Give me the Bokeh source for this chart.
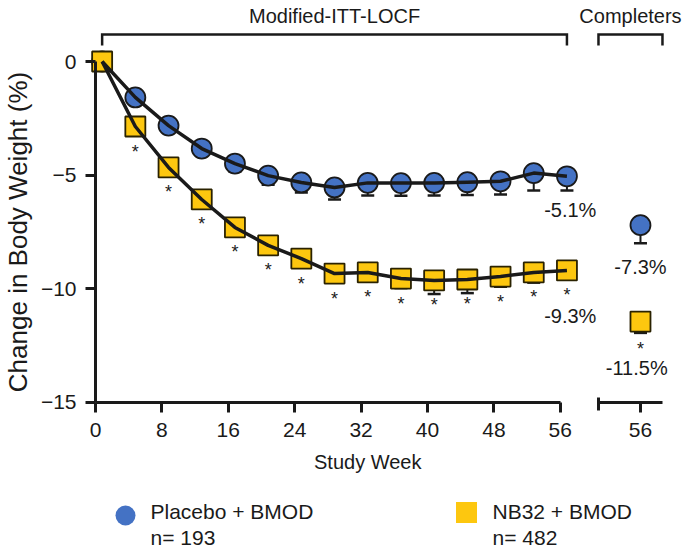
import math
from bokeh.plotting import figure
from bokeh.models import ColumnDataSource, Range1d, FixedTicker, Whisker, TeeHead, LinearAxis
from bokeh.layouts import column
from bokeh.transform import dodge
from bokeh.core.properties import value
from bokeh.embed import file_html
from bokeh.resources import INLINE

# ---------------- data ----------------
weeks = [0, 4, 8, 12, 16, 20, 24, 28, 32, 36, 40, 44, 48, 52, 56]
placebo = [0.0, -1.58, -2.82, -3.83, -4.49, -5.02, -5.32, -5.54, -5.34, -5.35, -5.34, -5.31, -5.27, -4.91, -5.05]
placebo_err = [0.0, 0.2, 0.25, 0.3, 0.35, 0.4, 0.44, 0.53, 0.56, 0.56, 0.56, 0.56, 0.58, 0.76, 0.63]
nb32 = [0.0, -2.86, -4.66, -6.07, -7.30, -8.09, -8.67, -9.33, -9.28, -9.55, -9.63, -9.59, -9.46, -9.28, -9.19]
nb32_err = [0.0, 0.2, 0.25, 0.3, 0.3, 0.35, 0.35, 0.4, 0.4, 0.42, 0.6, 0.6, 0.45, 0.45, 0.4]
nb32_sig = [False] + [True] * 14

completer_week = [56]
placebo_completer = [-7.2]
placebo_completer_err = [0.8]
nb32_completer = [-11.44]
nb32_completer_err = [0.5]

end_label_placebo = ["-5.1%"]
end_label_nb32 = ["-9.3%"]
completer_label_placebo = ["-7.3%"]
completer_label_nb32 = ["-11.5%"]

x_ticks = [0, 8, 16, 24, 32, 40, 48, 56]
y_ticks = [0, -5, -10, -15]

legend_names = ["Placebo + BMOD", "NB32 + BMOD"]
legend_n = ["n= 193", "n= 482"]

# ---------------- style / layout constants ----------------
FONT = "Liberation Sans"
BLUE = "#4472C4"
GOLD = "#FDC70F"
INK = "#1a1a1a"
OFF = 0.8           # markers sit slightly right of the nominal week
COMP_SHIFT = 9.66   # horizontal shift of the "Completers" panel
COMP_BOUNDS = (60.6, 68.31)
W, H_TOP = 684, 497

def style_axis(ax, size="21px"):
    ax.axis_line_width = 3
    ax.axis_line_color = INK
    ax.major_tick_line_width = 3
    ax.major_tick_line_color = INK
    ax.major_tick_in = 0
    ax.major_tick_out = 10
    ax.minor_tick_line_color = None
    ax.major_label_text_font = FONT
    ax.major_label_text_font_size = size
    ax.major_label_text_color = INK

def txt(fig, size, **kw):
    kw.setdefault("text_align", "center")
    kw.setdefault("text_baseline", "middle")
    fig.text(text_font=value(FONT), text_font_size=size, text_color=INK, **kw)

# ---------------- main figure ----------------
p = figure(width=W, height=H_TOP, x_range=Range1d(-11.446, 70.964), y_range=Range1d(-19.182, 2.684),
           output_backend="svg", toolbar_location=None, min_border=0,
           outline_line_color=None, background_fill_color="white", border_fill_color="white")
p.grid.visible = False

xa = p.xaxis[0]
style_axis(xa)
xa.ticker = FixedTicker(ticks=x_ticks)
xa.bounds = (x_ticks[0], x_ticks[-1])
xa.major_label_standoff = 11
xa.fixed_location = min(y_ticks)

ya = p.yaxis[0]
style_axis(ya)
ya.ticker = FixedTicker(ticks=y_ticks)
ya.bounds = (min(y_ticks), max(y_ticks))
ya.major_label_standoff = 9
ya.fixed_location = x_ticks[0]

comp_tick = completer_week[0] + COMP_SHIFT
ca = LinearAxis(ticker=FixedTicker(ticks=[comp_tick], minor_ticks=[COMP_BOUNDS[0]]),
                bounds=COMP_BOUNDS, major_label_overrides={comp_tick: str(completer_week[0])})
style_axis(ca)
ca.major_label_standoff = 11
ca.minor_tick_line_color = INK
ca.minor_tick_line_width = 3
ca.minor_tick_in = 5
ca.minor_tick_out = 8
ca.fixed_location = min(y_ticks)
p.add_layout(ca, "below")

src_p = ColumnDataSource(dict(week=weeks, y=placebo,
                              lower=[a - b for a, b in zip(placebo, placebo_err)]))
src_n = ColumnDataSource(dict(week=weeks, y=nb32,
                              lower=[a - b for a, b in zip(nb32, nb32_err)]))
src_star = ColumnDataSource(dict(week=[w for w, s in zip(weeks, nb32_sig) if s],
                                 y=[v for v, s in zip(nb32, nb32_sig) if s],
                                 t=["*" for s in nb32_sig if s]))
src_cp = ColumnDataSource(dict(week=completer_week, y=placebo_completer,
                               lower=[a - b for a, b in zip(placebo_completer, placebo_completer_err)]))
src_cn = ColumnDataSource(dict(week=completer_week, y=nb32_completer,
                               lower=[a - b for a, b in zip(nb32_completer, nb32_completer_err)]))

# markers
for src, shift in ((src_p, OFF), (src_cp, COMP_SHIFT)):
    p.scatter(x=dodge("week", shift), y="y", source=src, marker="circle", size=20,
              fill_color=BLUE, line_color=INK, line_width=1.8)
for src, shift in ((src_n, OFF), (src_cn, COMP_SHIFT)):
    p.scatter(x=dodge("week", shift), y="y", source=src, marker="square", size=20,
              fill_color=GOLD, line_color="#2a2200", line_width=1.8)
# connecting lines
p.line(x=dodge("week", OFF), y="y", source=src_p, line_width=3.5, line_color=INK, line_join="round")
p.line(x=dodge("week", OFF), y="y", source=src_n, line_width=3.5, line_color=INK, line_join="round")
# error bars
for src, shift in ((src_p, OFF), (src_n, OFF), (src_cp, COMP_SHIFT), (src_cn, COMP_SHIFT)):
    p.add_layout(Whisker(base=dodge("week", shift), upper="y", lower="lower", source=src,
                         dimension="height", line_width=2, line_color=INK, upper_head=None,
                         lower_head=TeeHead(size=13, line_width=2.5, line_color=INK)))

# significance stars
txt(p, "18px", x=dodge("week", OFF), y="y", text="t", source=src_star, y_offset=25)
txt(p, "18px", x=dodge("week", COMP_SHIFT), y="y", text=value("*"), source=src_cn, y_offset=27)

# value labels
txt(p, "20px", x=[weeks[-1] + OFF + 0.4], y=[placebo[-1]], text=end_label_placebo, y_offset=34)
txt(p, "20px", x=[weeks[-1] + OFF + 0.4], y=[nb32[-1]], text=end_label_nb32, y_offset=46)
txt(p, "20px", x=[comp_tick], y=placebo_completer, text=completer_label_placebo, y_offset=42)
txt(p, "20px", x=[comp_tick - 0.45], y=nb32_completer, text=completer_label_nb32, y_offset=46)

# brackets + group labels
BR_TOP, BR_END, LBL_Y = 1.19, 0.70, 2.0
for bx0, bx1, lbl in ((weeks[0] + OFF, weeks[-1] + OFF, "Modified-ITT-LOCF"),
                      (COMP_BOUNDS[0], COMP_BOUNDS[1], "Completers")):
    p.line(x=[bx0, bx0, bx1, bx1], y=[BR_END, BR_TOP, BR_TOP, BR_END], line_width=2.5,
           line_color=INK, line_join="miter")
    txt(p, "20px", x=[(bx0 + bx1) / 2], y=[LBL_Y], text=[lbl])

# axis titles
txt(p, "26px", x=[-9.35], y=[-7.5], text=["Change in Body Weight (%)"], angle=math.pi / 2)
txt(p, "20px", x=[32.8], y=[-17.6], text=["Study Week"])

# ---------------- legend panel ----------------
LH = 54
leg = figure(width=W, height=LH, x_range=Range1d(0, W), y_range=Range1d(LH, 0),
             output_backend="svg", toolbar_location=None, x_axis_location=None,
             y_axis_location=None, min_border=0, outline_line_color=None,
             background_fill_color="white", border_fill_color="white")
leg.grid.visible = False
leg.scatter(x=[125], y=[18], marker="circle", size=20, fill_color=BLUE, line_color=None)
leg.scatter(x=[466], y=[15], marker="square", size=21, fill_color=GOLD, line_color=None)
txt(leg, "21px", x=[150, 492], y=[14, 14], text=legend_names, text_align="left")
txt(leg, "21px", x=[150, 492], y=[40, 40], text=legend_n, text_align="left")

layout = column(p, leg)
open("out.html", "w").write(file_html(layout, INLINE))
